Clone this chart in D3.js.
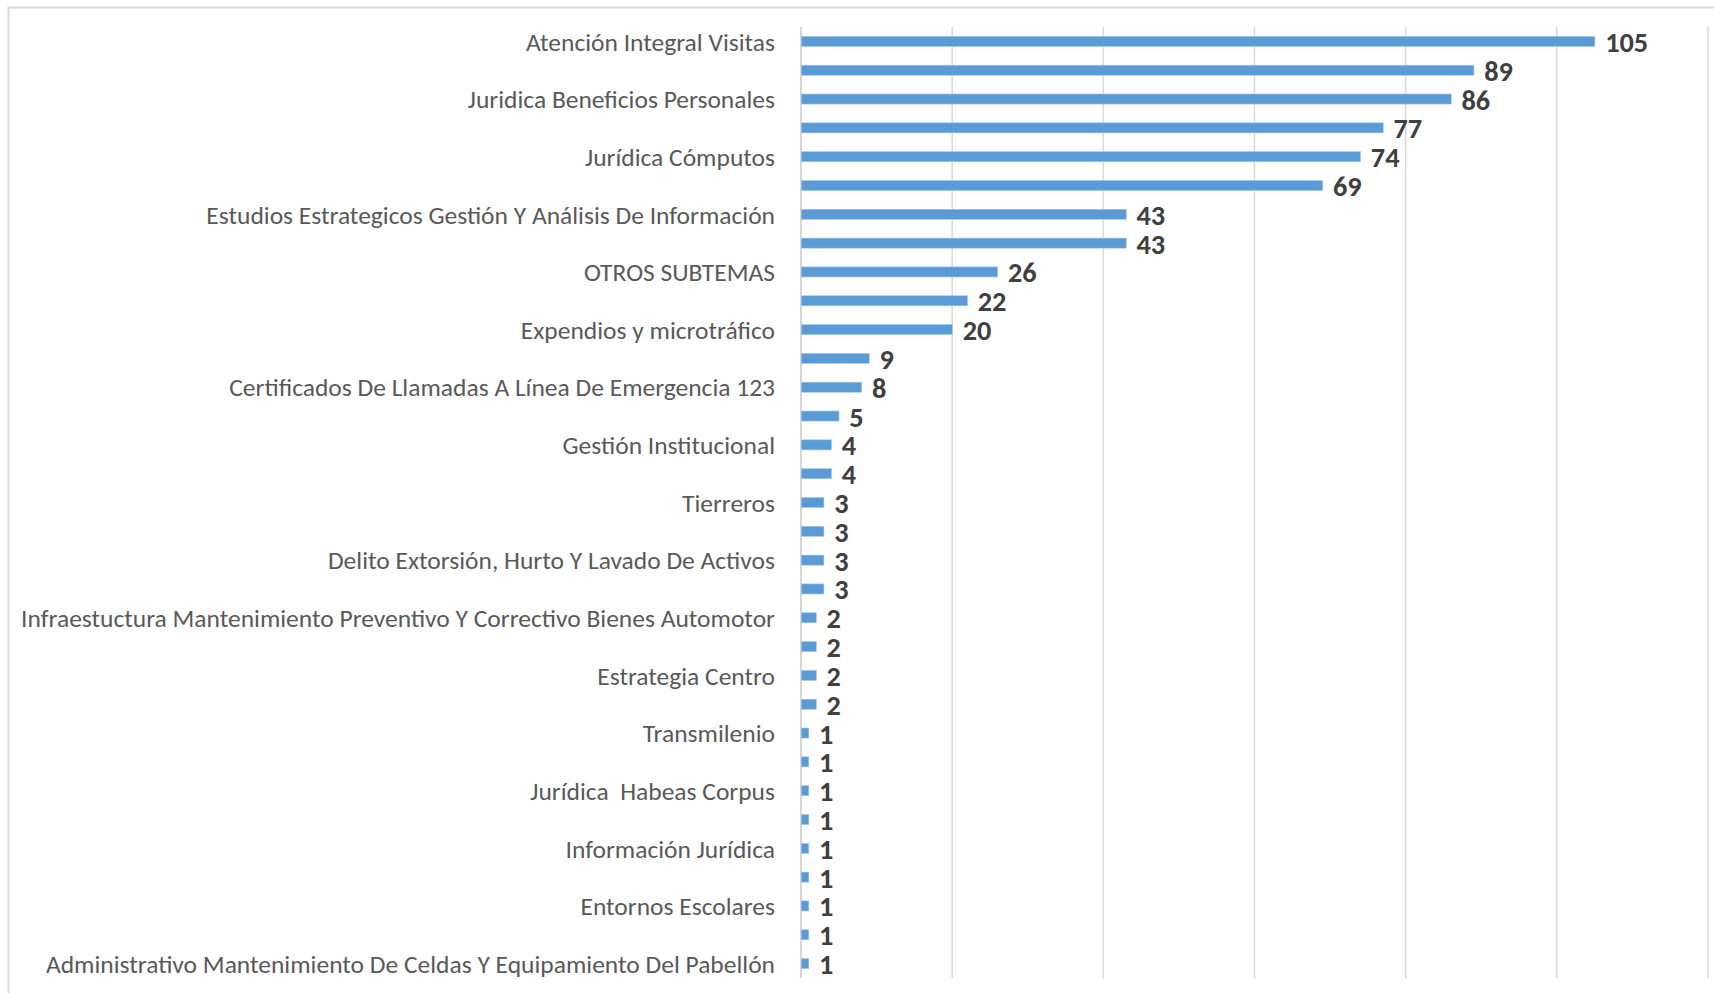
<!DOCTYPE html>
<html>
<head>
<meta charset="utf-8">
<script src="https://cdn.jsdelivr.net/npm/d3@7"></script>
<style>
  html, body { margin: 0; padding: 0; background: #fff; }
  #wrapper { width: 1714px; height: 993px; overflow: hidden; }
  .cat-axis text { fill: #595959; }
  .value-label { fill: #404040; font-weight: bold; }
</style>
</head>
<body>
<div id="wrapper"></div>
<script>
'use strict';

//#region DATA
// only every other category has its label printed on the chart; the hidden ones are left blank
const categories = [
  'Atención Integral Visitas', '',
  'Juridica Beneficios Personales', '',
  'Jurídica Cómputos', '',
  'Estudios Estrategicos Gestión Y Análisis De Información', '',
  'OTROS SUBTEMAS', '',
  'Expendios y microtráfico', '',
  'Certificados De Llamadas A Línea De Emergencia 123', '',
  'Gestión Institucional', '',
  'Tierreros', '',
  'Delito Extorsión, Hurto Y Lavado De Activos', '',
  'Infraestuctura Mantenimiento Preventivo Y Correctivo Bienes Automotor', '',
  'Estrategia Centro', '',
  'Transmilenio', '',
  'Jurídica  Habeas Corpus', '',
  'Información Jurídica', '',
  'Entornos Escolares', '',
  'Administrativo Mantenimiento De Celdas Y Equipamiento Del Pabellón'
];
const values = [
  105, 89, 86, 77, 74, 69, 43, 43, 26, 22, 20, 9, 8, 5, 4, 4, 3,
  3, 3, 3, 2, 2, 2, 2, 1, 1, 1, 1, 1, 1, 1, 1, 1
];
const xTicks = [0, 20, 40, 60, 80, 100, 120];
//#endregion DATA

function drawBars () {
  const dataset = categories.map((c, i) => ({ index: i, category: c, value: values[i] }));
  const yAccessor = d => d.index;
  const xAccessor = d => d.value;

  //#region CHART DIMENSIONS
  let dimensions = {
    width: 1714,
    height: 993,
    margin: { top: 27, right: 6, bottom: 15, left: 800 }
  };
  dimensions.plotWidth = 1707.5 - dimensions.margin.left;
  dimensions.plotHeight = dimensions.height - dimensions.margin.top - dimensions.margin.bottom;
  //#endregion CHART DIMENSIONS

  //#region DRAW CANVAS
  const wrapper = d3.select('#wrapper')
    .append('svg')
    .attr('width', dimensions.width)
    .attr('height', dimensions.height)
    .style('font-family', 'Calibri, Carlito, Lato, sans-serif');

  // chart frame (only top and left edges fall inside the picture)
  wrapper.append('path')
    .attr('d', `M8.5,${dimensions.height} V7.5 H${dimensions.width}`)
    .attr('fill', 'none')
    .attr('stroke', '#d9d9d9')
    .attr('stroke-width', 2);

  const plot = wrapper.append('g')
    .attr('transform', `translate(${dimensions.margin.left}, ${dimensions.margin.top})`);
  //#endregion DRAW CANVAS

  //#region SCALES
  const xScale = d3.scaleLinear()
    .domain([0, 120])
    .range([0.5, dimensions.plotWidth]);
  const yScale = d3.scaleBand()
    .domain(dataset.map(yAccessor))
    .range([0, dimensions.plotHeight])
    .paddingInner(0.65)
    .paddingOuter(0.325);
  //#endregion SCALES

  //#region GRIDLINES
  const gridGenerator = d3.axisBottom(xScale)
    .tickValues(xTicks)
    .tickSize(-dimensions.plotHeight)
    .tickFormat('');
  const grid = plot.append('g')
    .attr('transform', `translate(0, ${dimensions.plotHeight})`)
    .call(gridGenerator);
  grid.select('.domain').remove();
  grid.selectAll('.tick line')
    .attr('stroke', d => d === 0 ? '#c8c8c8' : '#d9d9d9')
    .attr('stroke-width', 1.5);
  //#endregion GRIDLINES

  //#region DRAW DATA
  plot.selectAll('rect.bar')
    .data(dataset)
    .join('rect')
    .attr('class', 'bar')
    .attr('x', xScale(0) + 0.75)
    .attr('y', d => yScale(yAccessor(d)))
    .attr('width', d => xScale(xAccessor(d)) - xScale(0))
    .attr('height', yScale.bandwidth())
    .attr('fill', '#5b9bd5')
    .attr('stroke', '#a9c8ea')
    .attr('stroke-width', 0.6);

  const valueLabels = plot.selectAll('text.value-label')
    .data(dataset)
    .join('text')
    .attr('class', 'value-label')
    .attr('x', d => xScale(xAccessor(d)) + 11)
    .attr('y', d => yScale(yAccessor(d)) + yScale.bandwidth() / 2 + 1)
    .attr('dominant-baseline', 'central')
    .style('font-size', '24px')
    .text(xAccessor);
  //#endregion DRAW DATA

  //#region DRAW PERIPHERALS
  const yAxisGenerator = d3.axisLeft(yScale)
    .tickValues(dataset.filter(d => d.category !== '').map(yAccessor))
    .tickFormat(i => categories[i])
    .tickSize(0)
    .tickPadding(25);
  const yAxis = plot.append('g')
    .attr('class', 'cat-axis')
    .call(yAxisGenerator);
  yAxis.select('.domain').remove();
  yAxis.selectAll('text')
    .style('font-family', 'Calibri, Carlito, Lato, sans-serif')
    .style('font-size', '20px')
    .style('white-space', 'pre')
    .attr('dy', '0.36em');

  // fit the installed font to the widths seen in the original picture
  const longest = yAxis.selectAll('text').nodes()
    .reduce((a, n) => Math.max(a, n.getComputedTextLength()), 0);
  const catSize = 20 * 754 / longest;
  yAxis.selectAll('text').style('font-size', `${catSize}px`);

  const widest = valueLabels.nodes()
    .reduce((a, n) => Math.max(a, n.getComputedTextLength()), 0);
  valueLabels.style('font-size', `${24 * 43 / widest}px`);
  //#endregion DRAW PERIPHERALS
}
drawBars();
</script>
</body>
</html>
